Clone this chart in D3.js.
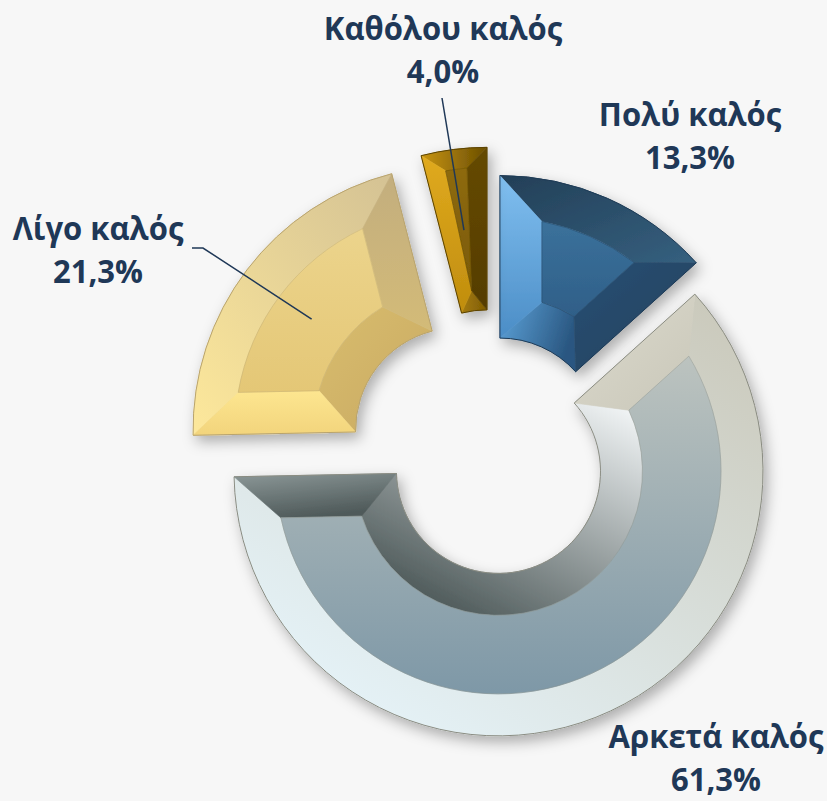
<html>
<head>
  <meta charset="utf-8">
  <style>
    body { margin: 0; background: #f7f7f7; }
    svg { display: block; }
    .lbl { font-family: "Open Sans", "Noto Sans", sans-serif; font-weight: 700; font-size: 33px; fill: #1f3857; }
  </style>
</head>
<body>
  <svg></svg>
  <script src="https://d3js.org/d3.v7.min.js"></script>
  <script>
    let width = 827, height = 801;

    // data
    let categories = ["Πολύ καλός", "Αρκετά καλός", "Λίγο καλός", "Καθόλου καλός"];
    let percentages = [13.3, 61.3, 21.3, 4.0];

    // layout / style (not data)
    let center = [492.6, 456.5];
    let outerR = 264.5, innerR = 102;
    let explode = { "Πολύ καλός": 18, "Αρκετά καλός": 16, "Λίγο καλός": 44, "Καθόλου καλός": 45 };
    let bevelW = { "Πολύ καλός": 42, "Αρκετά καλός": 42, "Λίγο καλός": 42, "Καθόλου καλός": 20 };
    let labelPos = {
      "Πολύ καλός": [690, 126],
      "Αρκετά καλός": [716, 748],
      "Λίγο καλός": [98, 240],
      "Καθόλου καλός": [443, 40]
    };
    let lineGap = 43;
    let leaderStart = {
      "Λίγο καλός": [[192, 248], [203, 248]],
      "Καθόλου καλός": [[442, 98]]
    };

    // colours for each piece of the bevelled slice: [from, to, x1, y1, x2, y2]
    let palette = {
      "Πολύ καλός": {
        face: ["#3b719b", "#2f5f88", 0, 0, 0, 1],
        outer: ["#233f57", "#35607f", 0, 0, 1, 1],
        inner: ["#5da3da", "#2a5781", 0, 0, 1, 0.3],
        start: ["#80bff0", "#4b8dc6", 0, 0, 0, 1],
        end: ["#2a5074", "#203f5c", 0, 0, 1, 1],
        stroke: "#1e3a55"
      },
      "Αρκετά καλός": {
        face: ["#bcc3bf", "#7e98a7", 0, 0, 0, 1],
        outer: ["#c9c7b8", "#e6f4fa", 1, 0, 0.2, 1],
        inner: ["#f8fbfc", "#4c5858", 1, 0, 0.3, 1],
        start: ["#dcdacd", "#c9c7b9", 0, 0, 1, 1],
        end: ["#8c9898", "#4f5a5a", 0, 0, 0.4, 1],
        stroke: "#8a8c82"
      },
      "Λίγο καλός": {
        face: ["#ecd48c", "#e4c776", 0, 0, 0, 1],
        outer: ["#d4c294", "#fde89b", 1, 0, 0, 1],
        inner: ["#d8bd70", "#c9a95f", 0, 0, 1, 1],
        start: ["#fde690", "#f2d47c", 0, 0, 0, 1],
        end: ["#c3ae7e", "#d3bb78", 0, 0, 0, 1],
        stroke: "#b8a36e"
      },
      "Καθόλου καλός": {
        face: ["#8e6a0a", "#7a5a06", 0, 0, 0, 1],
        outer: ["#c99512", "#6a4e02", 0, 0, 1, 0],
        inner: ["#a57b0c", "#7e5c04", 0, 0, 1, 0],
        start: ["#e0aa1e", "#c08d0e", 0, 0, 0, 1],
        end: ["#654900", "#553d00", 0, 0, 0, 1],
        stroke: "#5a4200"
      }
    };

    let fmt = d3.formatLocale({ decimal: ",", thousands: ".", grouping: [3], currency: ["", "€"] }).format(".1f");

    let svg = d3.select("svg")
      .attr("width", width)
      .attr("height", height)
      .style("background", "#f7f7f7");

    let defs = svg.append("defs");

    let shadow = defs.append("filter").attr("id", "shadow")
      .attr("x", "-20%").attr("y", "-20%").attr("width", "150%").attr("height", "150%");
    shadow.append("feDropShadow")
      .attr("dx", 4).attr("dy", 6).attr("stdDeviation", 7)
      .attr("flood-color", "#000").attr("flood-opacity", 0.3);

    let pie = d3.pie().sort(null).value(d => d.value);
    let slices = pie(categories.map((c, i) => ({ name: c, value: percentages[i] })));

    let arc = d3.arc().innerRadius(innerR).outerRadius(outerR);

    function pt(rad, a) { return [rad * Math.sin(a), -rad * Math.cos(a)]; }
    // d3.path arc wants angles from the x axis
    function ca(a) { return a - Math.PI / 2; }

    // build the flat bevel pieces of one slice
    function pieces(a0, a1, R, r, b) {
      let Ro = R - b, Ri = r + b, mid = (a0 + a1) / 2;
      let fo0 = a0 + Math.asin(b / Ro), fo1 = a1 - Math.asin(b / Ro);
      let fi0 = a0 + Math.asin(b / Ri), fi1 = a1 - Math.asin(b / Ri);
      if (fo0 > fo1) { fo0 = mid; fo1 = mid; }
      if (fi0 > fi1) { fi0 = mid; fi1 = mid; }
      let O0 = pt(R, a0), O1 = pt(R, a1), I0 = pt(r, a0), I1 = pt(r, a1);
      let Fo0 = pt(Ro, fo0), Fo1 = pt(Ro, fo1), Fi0 = pt(Ri, fi0), Fi1 = pt(Ri, fi1);

      let outer = d3.path();
      outer.moveTo(...O0);
      outer.arc(0, 0, R, ca(a0), ca(a1), false);
      outer.lineTo(...Fo1);
      outer.arc(0, 0, Ro, ca(fo1), ca(fo0), true);
      outer.closePath();

      let inner = d3.path();
      inner.moveTo(...I1);
      inner.arc(0, 0, r, ca(a1), ca(a0), true);
      inner.lineTo(...Fi0);
      inner.arc(0, 0, Ri, ca(fi0), ca(fi1), false);
      inner.closePath();

      let start = d3.path();
      start.moveTo(...O0); start.lineTo(...Fo0); start.lineTo(...Fi0); start.lineTo(...I0); start.closePath();

      let end = d3.path();
      end.moveTo(...O1); end.lineTo(...I1); end.lineTo(...Fi1); end.lineTo(...Fo1); end.closePath();

      let face = d3.path();
      face.moveTo(...Fo0);
      face.arc(0, 0, Ro, ca(fo0), ca(fo1), false);
      face.lineTo(...Fi1);
      face.arc(0, 0, Ri, ca(fi1), ca(fi0), true);
      face.closePath();

      return { outer: outer.toString(), inner: inner.toString(), start: start.toString(),
               end: end.toString(), face: face.toString() };
    }

    function gradient(id, g) {
      let lg = defs.append("linearGradient").attr("id", id)
        .attr("x1", g[2]).attr("y1", g[3]).attr("x2", g[4]).attr("y2", g[5]);
      lg.append("stop").attr("offset", 0).attr("stop-color", g[0]);
      lg.append("stop").attr("offset", 1).attr("stop-color", g[1]);
      return "url(#" + id + ")";
    }

    let chart = svg.append("g").attr("transform", "translate(" + center + ")");

    slices.forEach((s, i) => {
      let name = s.data.name;
      let pal = palette[name];
      let mid = (s.startAngle + s.endAngle) / 2;
      let off = pt(explode[name], mid);
      let g = chart.append("g")
        .attr("transform", "translate(" + off + ")")
        .attr("filter", "url(#shadow)");

      let p = pieces(s.startAngle, s.endAngle, outerR, innerR, bevelW[name]);
      ["outer", "inner", "start", "end", "face"].forEach(k => {
        g.append("path")
          .attr("d", p[k])
          .attr("fill", gradient("g" + i + k, pal[k]))
          .attr("stroke", gradient("s" + i + k, pal[k]))
          .attr("stroke-width", 0.6);
      });
      // thin seam round the face
      g.append("path").attr("d", p.face)
        .attr("fill", "none").attr("stroke", pal.stroke).attr("stroke-opacity", 0.35).attr("stroke-width", 1);
      // outline
      g.append("path").attr("d", arc(s))
        .attr("fill", "none").attr("stroke", pal.stroke).attr("stroke-width", 1);
    });

    // leader lines end on the slice centroid
    slices.forEach(s => {
      let name = s.data.name;
      if (!leaderStart[name]) return;
      let mid = (s.startAngle + s.endAngle) / 2;
      let off = pt(explode[name], mid);
      let c = arc.centroid(s);
      let endPt = [center[0] + off[0] + c[0], center[1] + off[1] + c[1]];
      svg.append("path")
        .attr("d", d3.line()(leaderStart[name].concat([endPt])))
        .attr("fill", "none")
        .attr("stroke", "#1f3857")
        .attr("stroke-width", 1.5);
    });

    // labels
    slices.forEach(s => {
      let name = s.data.name;
      let [x, y] = labelPos[name];
      let t = svg.append("text")
        .attr("class", "lbl")
        .attr("text-anchor", "middle")
        .attr("transform", "translate(" + x + "," + y + ") scale(0.94,1)");
      t.append("tspan").attr("x", 0).attr("y", 0).text(name);
      t.append("tspan").attr("x", 0).attr("y", lineGap).text(fmt(s.data.value) + "%");
    });
  </script>
</body>
</html>
